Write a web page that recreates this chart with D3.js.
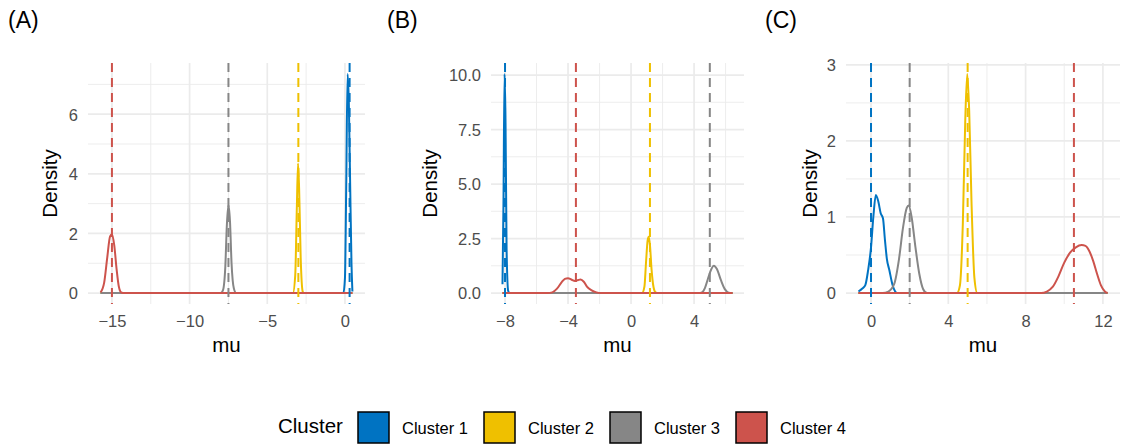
<!DOCTYPE html>
<html>
<head>
<meta charset="utf-8">
<script src="https://cdn.jsdelivr.net/npm/d3@7"></script>
<style>
  body { margin: 0; background: #fff; }
  text { font-family: "Liberation Sans", Arial, sans-serif; }
</style>
</head>
<body>
<div id="wrapper"></div>
<script>
// cluster names and colours (jco palette)
const clusterNames = ["Cluster 1", "Cluster 2", "Cluster 3", "Cluster 4"];
const clusterColors = ["#0073C2", "#EFC000", "#868686", "#CD534C"];

// panel A: density of mu per cluster, [mu, density]
const densA1 = [[-15.73, 0], [-0.1, 0], [0.0, 0.5], [0.08, 3.5], [0.17, 7.35], [0.25, 6.4], [0.33, 3.8], [0.42, 1.0], [0.48, 0.05]];
const densA2 = [[-15.73, 0], [-3.35, 0], [-3.2, 0.6], [-3.1, 2.8], [-3.02, 4.35], [-2.95, 3.5], [-2.85, 1.2], [-2.72, 0.05], [-2.65, 0], [0.48, 0]];
const densA3 = [[-15.73, 0], [-8.0, 0], [-7.85, 0.1], [-7.7, 0.9], [-7.6, 2.3], [-7.5, 2.95], [-7.4, 2.4], [-7.3, 1.0], [-7.15, 0.15], [-7.0, 0], [0.48, 0]];
const densA4 = [[-15.73, 0.02], [-15.5, 0.35], [-15.3, 1.2], [-15.12, 1.9], [-15.0, 1.97], [-14.85, 1.6], [-14.7, 0.8], [-14.55, 0.2], [-14.4, 0.02], [-14.2, 0], [0.48, 0]];
const meansA = [0.3, -3, -7.5, -15];
const xTicksA = [-15, -10, -5, 0];
const xMinorA = [-12.5, -7.5, -2.5];
const yTicksA = [0, 2, 4, 6];
const yMinorA = [1, 3, 5, 7];

// panel B
const densB1 = [[-8.16, 0.4], [-8.1, 4], [-8.03, 10.05], [-7.97, 8], [-7.9, 2], [-7.8, 0.1], [-7.7, 0], [6.44, 0]];
const densB2 = [[-8.16, 0], [0.7, 0], [0.85, 0.3], [0.95, 1.4], [1.05, 2.4], [1.12, 2.58], [1.2, 2.2], [1.3, 1.1], [1.42, 0.3], [1.55, 0.03], [1.65, 0], [6.44, 0]];
const densB3 = [[-8.16, 0], [4.3, 0], [4.5, 0.03], [4.7, 0.25], [4.9, 0.7], [5.1, 1.1], [5.25, 1.25], [5.45, 1.1], [5.7, 0.6], [5.95, 0.18], [6.2, 0.02], [6.44, 0]];
const densB4 = [[-8.16, 0], [-5.3, 0], [-5.0, 0.03], [-4.7, 0.2], [-4.4, 0.5], [-4.2, 0.65], [-4.0, 0.68], [-3.8, 0.62], [-3.55, 0.55], [-3.35, 0.6], [-3.2, 0.62], [-3.0, 0.52], [-2.8, 0.3], [-2.5, 0.12], [-2.2, 0.03], [-1.9, 0], [6.44, 0]];
const meansB = [-8, 1.2, 5, -3.5];
const xTicksB = [-8, -4, 0, 4];
const xMinorB = [-6, -2, 2, 6];
const yTicksB = [0, 2.5, 5, 7.5, 10];
const yMinorB = [1.25, 3.75, 6.25, 8.75];

// panel C
const densC1 = [[-0.65, 0.02], [-0.45, 0.06], [-0.3, 0.1], [-0.15, 0.3], [0.0, 0.6], [0.12, 1.0], [0.25, 1.29], [0.38, 1.2], [0.5, 1.05], [0.62, 0.98], [0.72, 0.7], [0.82, 0.45], [0.95, 0.3], [1.1, 0.12], [1.25, 0.02], [1.35, 0], [12.24, 0]];
const densC2 = [[-0.65, 0], [4.45, 0], [4.6, 0.1], [4.75, 0.9], [4.88, 2.3], [4.98, 2.88], [5.08, 2.4], [5.2, 1.2], [5.35, 0.2], [5.5, 0], [12.24, 0]];
const densC3 = [[-0.65, 0], [0.6, 0], [0.9, 0.02], [1.2, 0.12], [1.45, 0.45], [1.65, 0.85], [1.85, 1.12], [1.95, 1.15], [2.1, 1.0], [2.3, 0.6], [2.5, 0.25], [2.7, 0.05], [2.9, 0], [12.24, 0]];
const densC4 = [[-0.65, 0], [8.8, 0], [9.1, 0.02], [9.4, 0.08], [9.7, 0.22], [10.0, 0.4], [10.3, 0.53], [10.6, 0.6], [10.9, 0.63], [11.1, 0.62], [11.3, 0.55], [11.5, 0.42], [11.7, 0.25], [11.9, 0.1], [12.1, 0.02], [12.24, 0]];
const meansC = [0, 5, 2, 10.5];
const xTicksC = [0, 4, 8, 12];
const xMinorC = [2, 6, 10];
const yTicksC = [0, 1, 2, 3];
const yMinorC = [0.5, 1.5, 2.5];

function buildPlot() {
    const width = 1123, height = 444;
    const svg = d3.select("#wrapper").append("svg")
        .attr("width", width)
        .attr("height", height);

    const panels = [
        {tag: "(A)", tagX: 8, left: 88, right: 365, titleX: 57, dens: [densA1, densA2, densA3, densA4], means: meansA,
         xTicks: xTicksA, xMinor: xMinorA, yTicks: yTicksA, yMinor: yMinorA, fmt: d3.format("d")},
        {tag: "(B)", tagX: 387, left: 491, right: 744, titleX: 437, dens: [densB1, densB2, densB3, densB4], means: meansB,
         xTicks: xTicksB, xMinor: xMinorB, yTicks: yTicksB, yMinor: yMinorB, fmt: d3.format(".1f")},
        {tag: "(C)", tagX: 765, left: 846, right: 1120, titleX: 817, dens: [densC1, densC2, densC3, densC4], means: meansC,
         xTicks: xTicksC, xMinor: xMinorC, yTicks: yTicksC, yMinor: yMinorC, fmt: d3.format("d")}
    ];
    const top = 63, bottom = 304;

    panels.forEach(p => {
        const g = svg.append("g");
        const all = p.dens.flat();
        // ggplot style 5% expansion
        const xExt = d3.extent(all, d => d[0]);
        const xPad = (xExt[1] - xExt[0]) * 0.05;
        const yMax = d3.max(all, d => d[1]);
        const x = d3.scaleLinear().domain([xExt[0] - xPad, xExt[1] + xPad]).range([p.left, p.right]);
        const y = d3.scaleLinear().domain([-0.05 * yMax, 1.05 * yMax]).range([bottom, top]);

        // grid
        const grid = g.append("g");
        grid.selectAll(".ymin").data(p.yMinor.filter(v => v <= y.domain()[1])).join("line")
            .attr("x1", p.left).attr("x2", p.right)
            .attr("y1", d => y(d)).attr("y2", d => y(d))
            .attr("stroke", "#EBEBEB").attr("stroke-width", 0.9);
        grid.selectAll(".xmin").data(p.xMinor.filter(v => v >= x.domain()[0] && v <= x.domain()[1])).join("line")
            .attr("y1", top).attr("y2", bottom)
            .attr("x1", d => x(d)).attr("x2", d => x(d))
            .attr("stroke", "#EBEBEB").attr("stroke-width", 0.9);
        grid.selectAll(".ymaj").data(p.yTicks).join("line")
            .attr("x1", p.left).attr("x2", p.right)
            .attr("y1", d => y(d)).attr("y2", d => y(d))
            .attr("stroke", "#EBEBEB").attr("stroke-width", 1.7);
        grid.selectAll(".xmaj").data(p.xTicks).join("line")
            .attr("y1", top).attr("y2", bottom)
            .attr("x1", d => x(d)).attr("x2", d => x(d))
            .attr("stroke", "#EBEBEB").attr("stroke-width", 1.7);

        // densities
        const line = d3.line()
            .x(d => x(d[0]))
            .y(d => y(d[1]))
            .curve(d3.curveMonotoneX);
        p.dens.forEach((d, i) => {
            g.append("path")
                .attr("d", line(d))
                .attr("fill", "none")
                .attr("stroke", clusterColors[i])
                .attr("stroke-width", 2)
                .attr("stroke-linejoin", "round");
        });

        // mean lines
        g.selectAll(".vline").data(p.means).join("line")
            .attr("x1", d => x(d)).attr("x2", d => x(d))
            .attr("y1", top).attr("y2", bottom)
            .attr("stroke", (d, i) => clusterColors[i])
            .attr("stroke-width", 2)
            .attr("stroke-dasharray", "9,6");

        // axes (labels only, theme_minimal has no lines)
        const xAxis = d3.axisBottom(x).tickValues(p.xTicks).tickSize(0).tickPadding(0)
            .tickFormat(d => d3.format("d")(d).replace("-", "\u2212"));
        const xg = g.append("g").attr("transform", "translate(0," + bottom + ")").call(xAxis);
        xg.select(".domain").remove();
        xg.selectAll("text").attr("y", 23).attr("dy", null)
            .attr("fill", "#4D4D4D").style("font-size", "16.5px");

        const yAxis = d3.axisLeft(y).tickValues(p.yTicks).tickSize(0).tickPadding(10).tickFormat(p.fmt);
        const yg = g.append("g").attr("transform", "translate(" + p.left + ",0)").call(yAxis);
        yg.select(".domain").remove();
        yg.selectAll("text").attr("fill", "#4D4D4D").style("font-size", "16.5px").attr("dy", "0.36em");

        g.append("text")
            .attr("x", (p.left + p.right) / 2)
            .attr("y", 352)
            .attr("text-anchor", "middle")
            .style("font-size", "20.5px")
            .text("mu");
        g.append("text")
            .attr("transform", "translate(" + p.titleX + "," + (top + bottom) / 2 + ") rotate(-90)")
            .attr("text-anchor", "middle")
            .style("font-size", "20.5px")
            .text("Density");
        g.append("text")
            .attr("x", p.tagX)
            .attr("y", 28)
            .style("font-size", "23px")
            .text(p.tag);
    });

    // legend
    const legend = svg.append("g");
    legend.append("text")
        .attr("x", 278).attr("y", 433)
        .style("font-size", "20.5px")
        .text("Cluster");
    const keyX = d3.scalePoint().domain(clusterNames).range([358, 736]);
    legend.selectAll("rect").data(clusterNames).join("rect")
        .attr("x", d => keyX(d)).attr("y", 412)
        .attr("width", 31).attr("height", 31)
        .attr("fill", (d, i) => clusterColors[i])
        .attr("stroke", "#000").attr("stroke-width", 1.5);
    legend.selectAll(".lab").data(clusterNames).join("text")
        .attr("x", d => keyX(d) + 44).attr("y", 434)
        .style("font-size", "16.5px")
        .text(d => d);
}
buildPlot();
</script>
</body>
</html>
